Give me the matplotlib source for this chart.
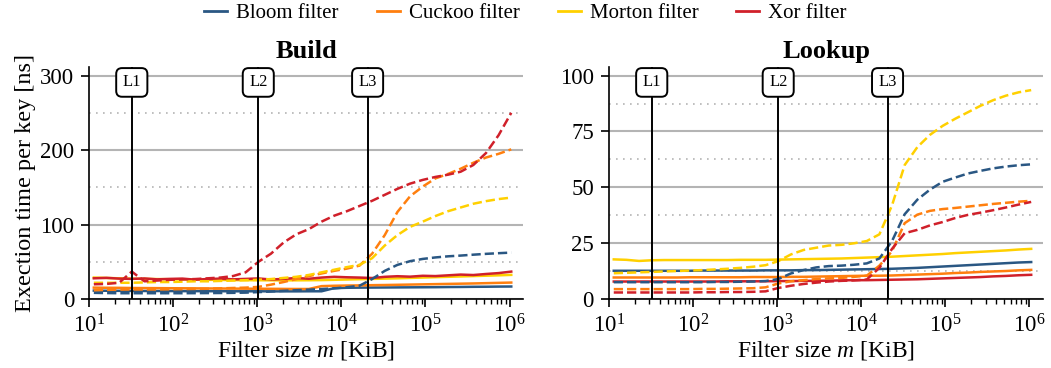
import matplotlib
matplotlib.use("Agg")
import matplotlib.pyplot as plt
import matplotlib.ticker as mticker
import matplotlib.transforms as mtransforms
from matplotlib.lines import Line2D
import numpy as np

# Filter sizes in KiB: powers of sqrt(2) from 2^3.5 to 2^20.
filter_kib = 2.0 ** np.arange(3.5, 20.5, 0.5)

# Cache boundaries in KiB (L1 = 32 KiB, L2 = 1 MiB, L3 = 20 MiB).
cache_names = ["L1", "L2", "L3"]
cache_kib = [32, 1024, 20480]

filters = ["Bloom filter", "Cuckoo filter", "Morton filter", "Xor filter"]
colors = ["#2a5783", "#ff7f0e", "#ffd000", "#d0202a"]

# Build time per key [ns], solid = first variant, dashed = second variant.
bloom_build_solid = [11.5, 11.3, 11.2, 11.1, 11.0, 11.0, 10.9, 10.8, 10.8, 10.7, 10.7, 10.6, 10.6, 10.6, 10.5, 10.5, 10.5,
                     10.6, 10.6, 14.8, 15.3, 15.5, 15.6, 15.7, 15.8, 15.9, 16.0, 16.1, 16.3, 16.4, 16.6, 16.7, 16.9, 17.0]
cuckoo_build_solid = [15.5, 15.3, 15.2, 15.0, 14.9, 14.8, 14.7, 14.6, 14.5, 14.4, 14.3, 14.2, 14.1, 14.0, 13.9, 13.8, 13.7,
                      13.7, 17.5, 18.0, 18.3, 18.5, 18.8, 19.0, 19.3, 19.6, 19.9, 20.2, 20.5, 20.8, 21.1, 21.5, 21.9, 22.3]
morton_build_solid = [29.0, 28.5, 28.0, 27.5, 27.2, 27.0, 26.8, 26.5, 26.3, 26.0, 25.8, 25.6, 25.5, 25.4, 25.3, 25.3, 25.3,
                      25.4, 25.6, 26.0, 26.4, 26.8, 27.2, 27.6, 28.0, 28.5, 29.0, 29.5, 30.0, 30.5, 31.0, 31.5, 32.0, 32.6]
xor_build_solid = [28.0, 28.6, 27.6, 27.2, 27.8, 26.6, 27.2, 27.6, 26.2, 27.0, 27.6, 26.6, 27.2, 27.8, 26.4, 27.2, 28.4,
                   27.4, 29.0, 30.0, 29.4, 29.0, 28.4, 30.0, 30.8, 30.2, 31.4, 31.0, 32.0, 33.0, 32.4, 33.8, 35.0, 37.0]

bloom_build_dashed = [8.5, 8.2, 8.0, 8.0, 8.0, 8.0, 8.0, 8.0, 8.1, 8.2, 8.3, 8.5, 8.8, 9.5, 10.3, 11.2, 12.0,
                      12.8, 13.6, 14.5, 16.0, 18.0, 27.0, 38.0, 46.0, 51.0, 54.0, 56.0, 57.5, 58.5, 59.7, 60.8, 61.7, 62.5]
cuckoo_build_dashed = [12.0, 12.5, 12.8, 13.0, 13.0, 13.0, 13.2, 13.5, 13.8, 14.0, 14.5, 15.0, 15.5, 16.5, 19.5, 23.0, 27.0,
                       31.0, 34.5, 38.0, 41.0, 45.0, 61.0, 86.0, 117.0, 138.0, 151.0, 162.0, 168.0, 175.0, 183.0, 190.0,
                       195.0, 201.0]
morton_build_dashed = [22.0, 22.0, 22.0, 22.0, 22.5, 23.0, 23.0, 23.5, 24.0, 24.0, 24.5, 25.0, 25.5, 26.0, 27.0, 28.5, 30.0,
                       32.5, 36.0, 39.5, 43.0, 46.0, 55.0, 72.0, 86.0, 97.0, 104.0, 111.5, 118.0, 123.0, 128.0, 131.5,
                       134.3, 136.3]
xor_build_dashed = [20.0, 20.5, 22.0, 37.0, 24.0, 25.0, 26.0, 26.5, 27.0, 28.0, 29.0, 31.0, 36.0, 50.0, 61.0, 76.0, 87.0,
                    94.0, 104.0, 112.0, 118.0, 125.0, 132.0, 140.0, 148.0, 155.0, 160.0, 164.0, 167.0, 171.0, 180.0, 196.0,
                    220.0, 250.0]

# Lookup time per key [ns].
bloom_lookup_solid = [12.7, 12.7, 12.7, 12.7, 12.7, 12.7, 12.7, 12.8, 12.8, 12.8, 12.8, 12.8, 12.9, 12.9, 12.9, 13.0, 13.0,
                      13.1, 13.2, 13.3, 13.4, 13.5, 13.6, 13.8, 14.0, 14.3, 14.6, 14.9, 15.2, 15.5, 15.8, 16.1, 16.4, 16.6]
cuckoo_lookup_solid = [9.7, 9.7, 9.7, 9.7, 9.7, 9.7, 9.8, 9.8, 9.8, 9.8, 9.8, 9.9, 9.9, 9.9, 10.0, 10.0, 10.1,
                       10.2, 10.3, 10.4, 10.5, 10.5, 10.6, 10.8, 11.0, 11.2, 11.4, 11.7, 11.9, 12.2, 12.4, 12.6, 12.9, 13.1]
morton_lookup_solid = [17.8, 17.6, 17.1, 17.4, 17.5, 17.5, 17.5, 17.5, 17.5, 17.5, 17.6, 17.6, 17.6, 17.7, 17.8, 17.9, 18.0,
                       18.1, 18.2, 18.4, 18.6, 18.8, 19.0, 19.3, 19.6, 19.9, 20.2, 20.6, 20.9, 21.2, 21.5, 21.8, 22.2, 22.5]
xor_lookup_solid = [7.9, 7.9, 7.9, 7.9, 7.9, 7.9, 7.9, 7.9, 7.9, 8.0, 8.0, 8.0, 8.0, 8.1, 8.1, 8.2, 8.2,
                    8.3, 8.4, 8.5, 8.5, 8.6, 8.7, 8.8, 8.9, 9.1, 9.3, 9.5, 9.7, 9.9, 10.2, 10.4, 10.7, 10.9]

bloom_lookup_dashed = [7.6, 7.6, 7.6, 7.6, 7.6, 7.6, 7.6, 7.6, 7.7, 7.7, 7.8, 7.9, 8.1, 9.0, 11.5, 13.0, 14.2,
                       14.8, 15.0, 15.4, 16.0, 18.2, 26.0, 38.0, 44.5, 49.0, 52.5, 54.4, 56.2, 57.4, 58.5, 59.3, 59.9, 60.3]
cuckoo_lookup_dashed = [4.5, 4.5, 4.5, 4.5, 4.5, 4.5, 4.5, 4.6, 4.6, 4.7, 4.8, 4.9, 5.3, 7.0, 8.0, 8.5, 9.0,
                        9.3, 9.5, 10.0, 10.5, 15.0, 21.5, 34.0, 37.8, 39.5, 40.3, 40.8, 41.4, 42.0, 42.6, 43.1, 43.6, 44.0]
morton_lookup_dashed = [11.6, 11.8, 12.0, 12.2, 12.4, 12.6, 12.8, 13.0, 13.3, 13.6, 14.0, 14.5, 15.2, 17.0, 20.0, 22.0, 23.0,
                        24.0, 24.3, 25.0, 26.0, 29.0, 42.0, 60.0, 68.0, 73.5, 77.5, 80.7, 83.6, 86.5, 89.0, 91.0, 92.5,
                        93.5]
xor_lookup_dashed = [3.0, 3.0, 3.0, 3.0, 3.0, 3.0, 3.0, 3.1, 3.1, 3.2, 3.2, 3.3, 3.5, 5.0, 6.0, 6.8, 7.4,
                     7.9, 8.2, 8.4, 8.8, 14.0, 22.5, 29.5, 31.0, 33.0, 34.5, 36.3, 37.7, 38.7, 39.8, 41.0, 42.3, 43.5]

build_solid = [bloom_build_solid, cuckoo_build_solid, morton_build_solid, xor_build_solid]
build_dashed = [bloom_build_dashed, cuckoo_build_dashed, morton_build_dashed, xor_build_dashed]
lookup_solid = [bloom_lookup_solid, cuckoo_lookup_solid, morton_lookup_solid, xor_lookup_solid]
lookup_dashed = [bloom_lookup_dashed, cuckoo_lookup_dashed, morton_lookup_dashed, xor_lookup_dashed]

plt.rcParams["font.family"] = ["Liberation Serif", "DejaVu Serif"]
plt.rcParams["mathtext.fontset"] = "custom"
plt.rcParams["mathtext.rm"] = "Liberation Serif"
plt.rcParams["mathtext.it"] = "Liberation Serif:italic"
plt.rcParams["mathtext.bf"] = "Liberation Serif:bold"

fig = plt.figure(figsize=(10.51, 3.68), dpi=100)
ax_build = fig.add_axes([0.085, 0.187, 0.4127, 0.632])
ax_lookup = fig.add_axes([0.5797, 0.187, 0.4127, 0.632])


def draw_panel(ax, title, solid, dashed, ymax, major, minor):
    # Major grid solid, minor grid dotted.
    ax.set_axisbelow(True)
    ax.yaxis.set_major_locator(mticker.MultipleLocator(major))
    ax.yaxis.set_minor_locator(mticker.MultipleLocator(minor))
    ax.grid(axis="y", which="major", color="#b4b4b4", lw=1.5, ls="-")
    ax.grid(axis="y", which="minor", color="#b4b4b4", lw=1.2, ls=(0, (1, 3.2)))

    for color, ys in zip(colors, solid):
        ax.plot(filter_kib, ys, color=color, lw=1.8, ls="-", zorder=3)
    for color, ys in zip(colors, dashed):
        ax.plot(filter_kib, ys, color=color, lw=1.8, ls="--", zorder=3)

    ax.set_xscale("log")
    ax.set_xlim(10, 1.45e6)
    ax.set_ylim(0, ymax)

    # Cache size markers with boxed labels.
    trans = mtransforms.blended_transform_factory(ax.transData, ax.transAxes)
    for name, kib in zip(cache_names, cache_kib):
        ax.axvline(kib, color="black", lw=1.4, zorder=4)
        ax.text(kib, 0.932, name, transform=trans, ha="center", va="center", fontsize=12, zorder=5,
                bbox=dict(boxstyle="round,pad=0.38,rounding_size=0.35", fc="white", ec="black", lw=1.4))

    ax.set_title(title, fontsize=19, fontweight="bold", pad=6)
    ax.set_xlabel("Filter size $m$ [KiB]", fontsize=17, labelpad=1)

    ax.spines["top"].set_visible(False)
    ax.spines["right"].set_visible(False)
    ax.spines["left"].set_linewidth(1.2)
    ax.spines["bottom"].set_linewidth(1.2)
    ax.tick_params(axis="both", which="major", direction="out", length=6, width=1.2, labelsize=16.5)
    ax.tick_params(axis="x", which="major", pad=5)
    ax.tick_params(axis="y", which="major", pad=5)
    ax.tick_params(axis="x", which="minor", direction="out", length=3.5, width=1.0)
    ax.tick_params(axis="y", which="minor", length=0)
    ax.xaxis.set_minor_locator(mticker.LogLocator(base=10, subs=np.arange(2, 10), numticks=20))


draw_panel(ax_build, "Build", build_solid, build_dashed, 312, 100, 50)
draw_panel(ax_lookup, "Lookup", lookup_solid, lookup_dashed, 104, 25, 12.5)
ax_build.set_ylabel("Exection time per key [ns]", fontsize=17.5, labelpad=3)

handles = [Line2D([0], [0], color=c, lw=2) for c in colors]
fig.legend(handles, filters, loc="center", bbox_to_anchor=(0.5, 0.964), ncol=4, frameon=False, fontsize=15,
           handlelength=1.1, handletextpad=0.43, columnspacing=1.83)

fig.savefig("out.png", dpi=100)
